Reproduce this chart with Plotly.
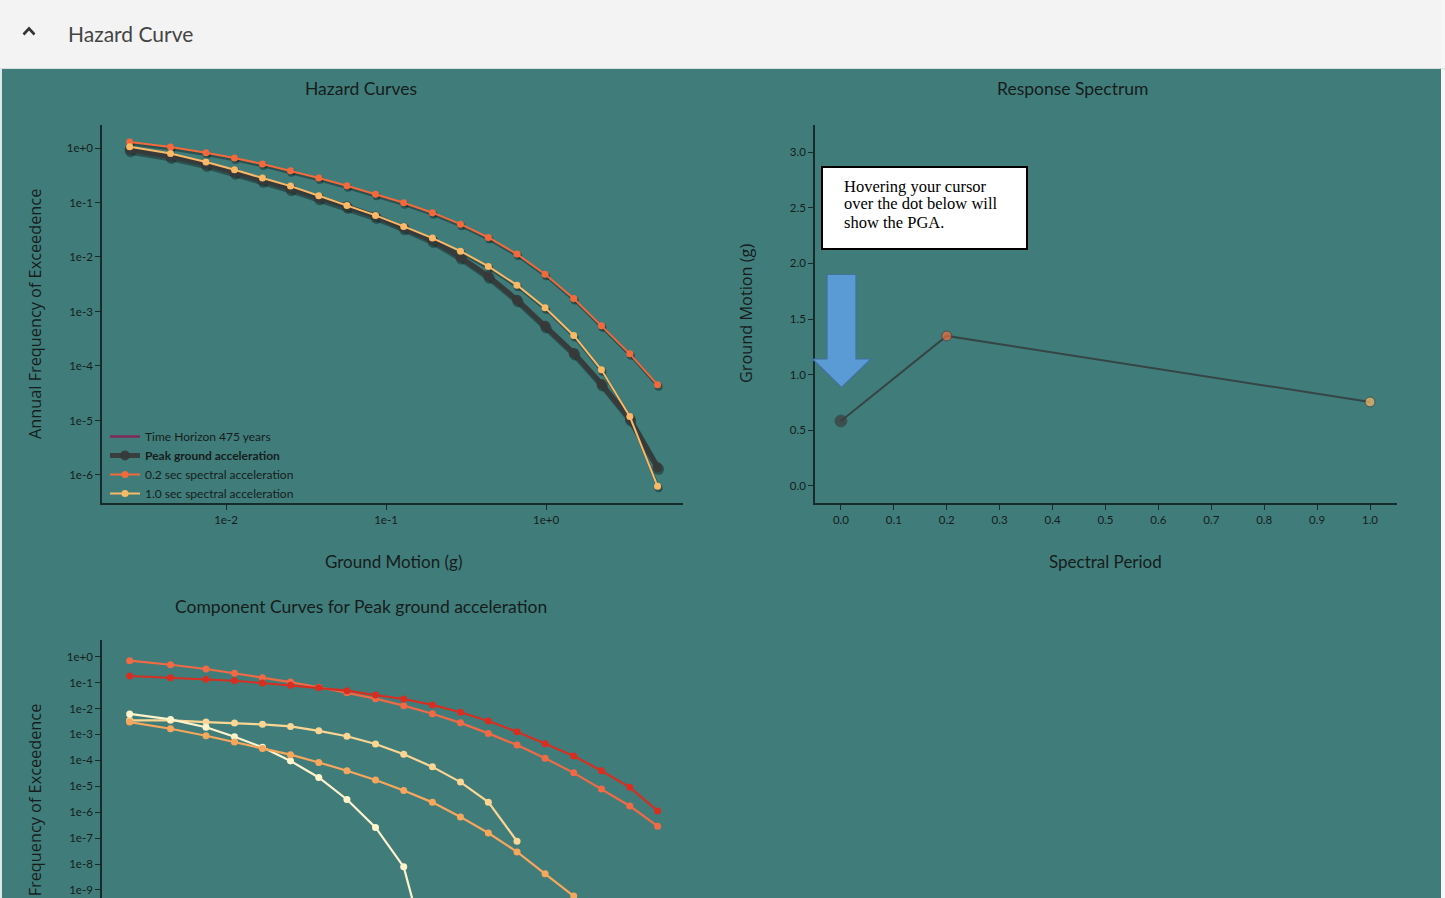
import plotly.graph_objects as go

W, H = 1445, 898

# ---------------- data ----------------
ground_motion_g = [0.0025, 0.0045, 0.0075, 0.0113, 0.0169, 0.0253, 0.038, 0.057, 0.086,
                   0.129, 0.195, 0.292, 0.436, 0.659, 0.987, 1.49, 2.22, 3.34, 4.98]

afe_pga = [0.93, 0.70, 0.50, 0.36, 0.255, 0.179, 0.122, 0.085, 0.0555, 0.0344, 0.0201,
           0.00995, 0.00445, 0.00164, 0.000545, 0.000174, 0.0000468, 0.0000107, 0.00000138]
afe_sa02 = [1.29, 1.04, 0.82, 0.655, 0.508, 0.383, 0.281, 0.203, 0.141, 0.099, 0.065,
            0.040, 0.0228, 0.0113, 0.00484, 0.00173, 0.000545, 0.000167, 0.0000455]
afe_sa10 = [1.05, 0.79, 0.553, 0.40, 0.281, 0.20, 0.133, 0.0885, 0.058, 0.0364, 0.0222,
            0.0128, 0.0067, 0.00304, 0.00117, 0.000363, 0.000085, 0.0000118, 0.00000062]

series_names = ["<b>Peak ground acceleration</b>", "0.2 sec spectral acceleration",
                "1.0 sec spectral acceleration"]
time_horizon_name = "Time Horizon 475 years"

spectral_period = [0.0, 0.2, 1.0]
spectral_value_g = [0.584, 1.348, 0.755]

comp_a = [0.70, 0.49, 0.335, 0.229, 0.155, 0.105, 0.066, 0.041, 0.024, 0.0129, 0.0063,
          0.0028, 0.0011, 0.00039, 0.00012, 0.000033, 7.8e-6, 1.74e-6, 2.9e-7]
comp_b = [0.18, 0.155, 0.134, 0.118, 0.0966, 0.0787, 0.0635, 0.049, 0.0331, 0.0234, 0.0138,
          0.0072, 0.0033, 0.00126, 0.000437, 0.000148, 0.0000398, 9.1e-6, 1.12e-6]
comp_c = [0.0035, 0.0035, 0.0030, 0.00275, 0.00245, 0.00204, 0.00138, 0.00085, 0.00043,
          0.000174, 0.0000562, 0.0000145, 2.45e-6, 7.6e-8]
comp_d = [0.0062, 0.0038, 0.0019, 0.00081, 0.00032, 0.000095, 0.0000219, 3.1e-6, 2.6e-7,
          7.8e-9, 5.6e-13]
comp_e = [0.0030, 0.00166, 0.00089, 0.00051, 0.000288, 0.000166, 0.0000832, 0.0000398,
          0.0000174, 6.9e-6, 2.4e-6, 6.6e-7, 1.58e-7, 2.95e-8, 4.2e-9, 5.8e-10]

hazard_x_tickvals = [0.01, 0.1, 1]
hazard_x_ticktext = ["1e-2", "1e-1", "1e+0"]
hazard_y_tickvals = [1, 1e-1, 1e-2, 1e-3, 1e-4, 1e-5, 1e-6]
hazard_y_ticktext = ["1e+0", "1e-1", "1e-2", "1e-3", "1e-4", "1e-5", "1e-6"]
comp_y_tickvals = [1, 1e-1, 1e-2, 1e-3, 1e-4, 1e-5, 1e-6, 1e-7, 1e-8, 1e-9]
comp_y_ticktext = ["1e+0", "1e-1", "1e-2", "1e-3", "1e-4", "1e-5", "1e-6", "1e-7", "1e-8", "1e-9"]
rs_x_tickvals = [0.0, 0.1, 0.2, 0.3, 0.4, 0.5, 0.6, 0.7, 0.8, 0.9, 1.0]
rs_y_tickvals = [0.0, 0.5, 1.0, 1.5, 2.0, 2.5, 3.0]

hint_lines = ["Hovering your cursor", "over the dot below will", "show the PGA."]

# ---------------- styling ----------------
TEAL = "#407d7a"
AXC = "#182b2b"
TXT = "#161c1c"
C_PGA = "rgba(55,58,58,0.92)"
C_SA02 = "#f26a3c"
C_SA10 = "#fbb866"
C_TH = "#7d2a57"
SHADOW = "rgba(15,30,30,0.45)"
comp_colors = ["#ef6a45", "#d62f22", "#fad593", "#fff3cc", "#f6a75c"]


def px(x):
    return x / W


def py(y):
    return 1 - y / H


fig = go.Figure()

# shadow traces (on hidden, slightly offset axes)
for ys, w, ms in [(afe_pga, 6, 11), (afe_sa02, 3, 8), (afe_sa10, 3, 8)]:
    fig.add_trace(go.Scatter(x=ground_motion_g, y=ys, mode="lines+markers",
                             line=dict(color=SHADOW, width=w), marker=dict(color=SHADOW, size=ms),
                             xaxis="x", yaxis="y", showlegend=False, hoverinfo="skip"))

# hazard curves
fig.add_trace(go.Scatter(x=[None], y=[None], mode="lines", name=time_horizon_name,
                         line=dict(color=C_TH, width=2.5), xaxis="x2", yaxis="y2"))
fig.add_trace(go.Scatter(x=ground_motion_g, y=afe_pga, mode="lines+markers", name=series_names[0],
                         line=dict(color=C_PGA, width=5), marker=dict(color=C_PGA, size=10),
                         xaxis="x2", yaxis="y2"))
fig.add_trace(go.Scatter(x=ground_motion_g, y=afe_sa02, mode="lines+markers", name=series_names[1],
                         line=dict(color=C_SA02, width=2), marker=dict(color=C_SA02, size=7),
                         xaxis="x2", yaxis="y2"))
fig.add_trace(go.Scatter(x=ground_motion_g, y=afe_sa10, mode="lines+markers", name=series_names[2],
                         line=dict(color=C_SA10, width=2), marker=dict(color=C_SA10, size=7),
                         xaxis="x2", yaxis="y2"))

# response spectrum
fig.add_trace(go.Scatter(x=spectral_period, y=spectral_value_g, mode="lines+markers",
                         line=dict(color="#354545", width=2),
                         marker=dict(color=["#3b3b3b", C_SA02, C_SA10], size=[12, 10, 10]),
                         xaxis="x3", yaxis="y3", showlegend=False))

# component curves
for ys, col in zip([comp_a, comp_b, comp_c, comp_d, comp_e], comp_colors):
    fig.add_trace(go.Scatter(x=ground_motion_g[:len(ys)], y=ys, mode="lines+markers",
                             line=dict(color=col, width=2.2), marker=dict(color=col, size=7),
                             xaxis="x4", yaxis="y4", showlegend=False))

tickfont = dict(family="Lato", size=11.5, color=TXT)
axis_common = dict(showline=True, linecolor=AXC, linewidth=1.6, ticks="outside", ticklen=5,
                   tickcolor=AXC, tickwidth=1.2, showgrid=False, zeroline=False, tickfont=tickfont)

hx_range = [-2.775, 0.856]
hy_range = [-6.514, 0.422]

fig.update_layout(
    width=W, height=H, margin=dict(l=0, r=0, t=0, b=0),
    paper_bgcolor=TEAL, plot_bgcolor="rgba(0,0,0,0)",
    font=dict(family="Lato", color=TXT),
    xaxis=dict(type="log", range=hx_range, domain=[px(103), px(684)], visible=False),
    yaxis=dict(type="log", range=hy_range, domain=[py(505), py(127)], visible=False),
    xaxis2=dict(type="log", range=hx_range, domain=[px(102), px(683)], anchor="y2",
                tickvals=hazard_x_tickvals, ticktext=hazard_x_ticktext, **axis_common),
    yaxis2=dict(type="log", range=hy_range, domain=[py(503), py(125)], anchor="x2",
                tickvals=hazard_y_tickvals, ticktext=hazard_y_ticktext, **axis_common),
    xaxis3=dict(range=[-0.049, 1.051], domain=[px(815), px(1397)], anchor="y3",
                tickvals=rs_x_tickvals, tickformat=".1f", **axis_common),
    yaxis3=dict(range=[-0.153, 3.243], domain=[py(503), py(125)], anchor="x3",
                tickvals=rs_y_tickvals, tickformat=".1f", **axis_common),
    xaxis4=dict(type="log", range=hx_range, domain=[px(102), px(683)], anchor="y4", visible=False),
    yaxis4=dict(type="log", range=[-9.309, 0.644], domain=[0, py(640)], anchor="x4",
                tickvals=comp_y_tickvals, ticktext=comp_y_ticktext, **axis_common),
    legend=dict(x=px(105), y=py(422), xanchor="left", yanchor="top", bgcolor="rgba(0,0,0,0)",
                font=dict(family="Lato", size=12, color=TXT), itemwidth=30, tracegroupgap=0),
    showlegend=True,
)

shapes = []
# header bar
shapes.append(dict(type="rect", xref="paper", yref="paper", x0=0, x1=1, y0=py(68), y1=1,
                   fillcolor="#f3f3f3", line=dict(width=0), layer="below"))
shapes.append(dict(type="line", xref="paper", yref="paper", x0=0, x1=1, y0=py(68.5), y1=py(68.5),
                   line=dict(color="#d5dfdf", width=1)))
# right and left edge strips
shapes.append(dict(type="rect", xref="paper", yref="paper", x0=px(1441), x1=1, y0=0, y1=1,
                   fillcolor="#f7f7f7", line=dict(width=0), layer="below"))
shapes.append(dict(type="rect", xref="paper", yref="paper", x0=0, x1=px(2), y0=0, y1=py(68),
                   fillcolor="#dfe8e8", line=dict(width=0), layer="below"))


def path(points, close=True):
    s = "M " + " L ".join(f"{px(x):.5f},{py(y):.5f}" for x, y in points)
    return s + (" Z" if close else "")


# caret
shapes.append(dict(type="path", xref="paper", yref="paper",
                   path=path([(23.5, 34.5), (29, 28.5), (34.5, 34.5)], close=False),
                   line=dict(color="#333333", width=2.6)))
# hint box
shapes.append(dict(type="rect", xref="paper", yref="paper", x0=px(822), x1=px(1027),
                   y0=py(249), y1=py(167), fillcolor="white", line=dict(color="black", width=2)))
# blue arrow
shapes.append(dict(type="path", xref="paper", yref="paper",
                   path=path([(827, 274.5), (856, 274.5), (856, 359), (871, 359), (841.5, 387.5),
                              (812.5, 359), (827, 359)]),
                   fillcolor="#5b9bd5", line=dict(color="#41719c", width=1.2)))
fig.update_layout(shapes=shapes)

ann = []


def add_text(text, x, y, size, family="Lato", color=TXT, angle=0, xanchor="center",
             yanchor="middle", align="center"):
    ann.append(dict(text=text, x=px(x), y=py(y), xref="paper", yref="paper", showarrow=False,
                    font=dict(family=family, size=size, color=color), textangle=angle,
                    xanchor=xanchor, yanchor=yanchor, align=align))


add_text("Hazard Curve", 66, 33, 21, color="#444444", xanchor="left")
add_text("Hazard Curves", 361, 88, 17.5)
add_text("Response Spectrum", 1073, 88, 17.5)
add_text("Ground Motion (g)", 393, 561, 17)
add_text("Spectral Period", 1105, 561, 17)
add_text("Component Curves for Peak ground acceleration", 361, 606, 17.5)
add_text("Annual Frequency of Exceedence", 35, 314, 16.3, family="Open Sans", angle=-90)
add_text("Ground Motion (g)", 746, 314, 16.3, family="Open Sans", angle=-90)
add_text("Annual Frequency of Exceedence", 35, 829, 16.3, family="Open Sans", angle=-90)
for line, ly in zip(hint_lines, [186, 203.5, 222]):
    add_text(line, 842, ly, 16.5, family="Liberation Serif", color="black", xanchor="left")
fig.update_layout(annotations=ann)

fig.write_html("out.html", config={"displayModeBar": False},
               post_script="document.body.style.margin='0';document.body.style.overflow='hidden';")
